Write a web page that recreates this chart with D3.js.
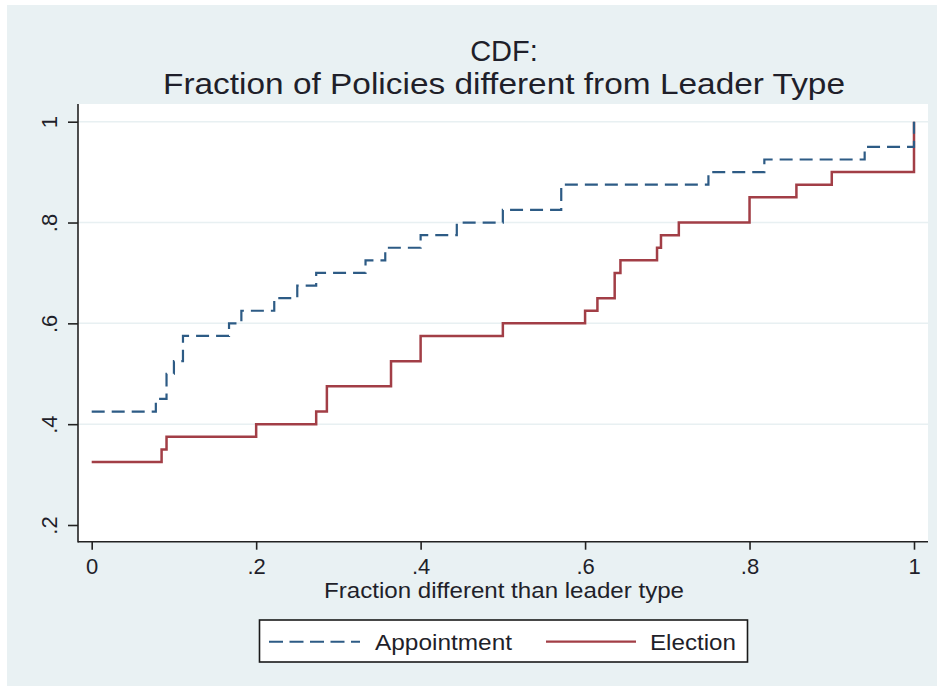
<!DOCTYPE html>
<html>
<head>
<meta charset="utf-8">
<script src="https://cdn.jsdelivr.net/npm/d3@7"></script>
<style>
  html, body { margin: 0; padding: 0; background: #ffffff; }
  svg { display: block; }
  text { font-family: "Liberation Sans", Arial, sans-serif; fill: #1f1f2a; }
</style>
</head>
<body>
<svg id="chart" width="944" height="691"></svg>
<script>
// Empirical CDF of the fraction of policies differing from the leader type
const appointmentX = [0, 0.078, 0.091, 0.1, 0.111, 0.167, 0.182, 0.222, 0.25, 0.273, 0.333, 0.357, 0.4, 0.444, 0.5, 0.571, 0.75, 0.818, 0.94, 1];
const appointmentY = [0.425, 0.45, 0.5, 0.525, 0.575, 0.6, 0.625, 0.65, 0.675, 0.7, 0.725, 0.75, 0.775, 0.8, 0.825, 0.875, 0.9, 0.925, 0.95, 1];

const electionX = [0, 0.085, 0.091, 0.2, 0.273, 0.286, 0.364, 0.4, 0.5, 0.6, 0.615, 0.636, 0.643, 0.6875, 0.6923, 0.714, 0.8, 0.857, 0.9, 1];
const electionY = [0.325, 0.35, 0.375, 0.4, 0.425, 0.475, 0.525, 0.575, 0.6, 0.625, 0.65, 0.7, 0.725, 0.75, 0.775, 0.8, 0.85, 0.875, 0.9, 1];

const xTicks = [0, 0.2, 0.4, 0.6, 0.8, 1];
const xTickLabels = ["0", ".2", ".4", ".6", ".8", "1"];
const yTicks = [0.2, 0.4, 0.6, 0.8, 1];
const yTickLabels = [".2", ".4", ".6", ".8", "1"];
const yGrid = [0.4, 0.6, 0.8, 1];

const titleLines = ["CDF:", "Fraction of Policies different from Leader Type"];
const xTitle = "Fraction different than leader type";
const seriesNames = ["Appointment", "Election"];

const blue = "#2d5b85";
const red = "#a23e46";

const svg = d3.select("#chart");

// graph region background
svg.append("rect").attr("x", 7).attr("y", 5).attr("width", 930).attr("height", 681)
  .attr("fill", "#e9f1f3");

// plot region
const plot = { left: 78, right: 928, top: 104, bottom: 541.7 };
svg.append("rect")
  .attr("x", plot.left).attr("y", plot.top)
  .attr("width", plot.right - plot.left).attr("height", plot.bottom - plot.top)
  .attr("fill", "#ffffff");

const x = d3.scaleLinear().domain([0, 1]).range([91.7, 914]);
const y = d3.scaleLinear().domain([0.2, 1]).range([525, 121.7]);

// gridlines
svg.append("g").selectAll("line").data(yGrid).join("line")
  .attr("x1", plot.left).attr("x2", plot.right)
  .attr("y1", d => y(d)).attr("y2", d => y(d))
  .attr("stroke", "#e8f0f2").attr("stroke-width", 1.5);

// step lines
const pts = (xs, ys) => xs.map((v, i) => [v, ys[i]]);
const stepLine = d3.line().x(d => x(d[0])).y(d => y(d[1])).curve(d3.curveStepAfter);

svg.append("path").datum(pts(electionX, electionY))
  .attr("d", stepLine).attr("fill", "none")
  .attr("stroke", red).attr("stroke-width", 2.5);

svg.append("path").datum(pts(appointmentX, appointmentY))
  .attr("d", stepLine).attr("fill", "none")
  .attr("stroke", blue).attr("stroke-width", 2.2)
  .attr("stroke-dasharray", "13,7");

// axes
const xAxis = d3.axisBottom(x).tickValues(xTicks)
  .tickFormat((d, i) => xTickLabels[i]).tickSize(8).tickPadding(9);
const gx = svg.append("g").attr("transform", `translate(0,${plot.bottom})`).call(xAxis);
gx.select(".domain").remove();
gx.append("line").attr("x1", plot.left).attr("x2", plot.right)
  .attr("stroke", "#222").attr("stroke-width", 1.6);
gx.selectAll(".tick line").attr("stroke", "#222").attr("stroke-width", 1.6);
gx.selectAll(".tick text").attr("font-size", 22).attr("fill", "#1f1f2a")
  .attr("font-family", "Liberation Sans, Arial, sans-serif");

const yAxis = d3.axisLeft(y).tickValues(yTicks)
  .tickFormat((d, i) => yTickLabels[i]).tickSize(10);
const gy = svg.append("g").attr("transform", `translate(${plot.left},0)`).call(yAxis);
gy.select(".domain").remove();
gy.append("line").attr("y1", plot.top).attr("y2", plot.bottom + 0.8)
  .attr("stroke", "#222").attr("stroke-width", 1.6);
gy.selectAll(".tick line").attr("stroke", "#222").attr("stroke-width", 1.6);
gy.selectAll(".tick text")
  .attr("font-size", 22).attr("fill", "#1f1f2a")
  .attr("font-family", "Liberation Sans, Arial, sans-serif")
  .attr("x", null).attr("dy", null)
  .attr("text-anchor", "middle")
  .attr("transform", "translate(-21,0) rotate(-90)");

// titles
const cx = (plot.left + plot.right) / 2 + 1;
svg.append("text").attr("x", cx).attr("y", 61).attr("text-anchor", "middle")
  .attr("font-size", 29).text(titleLines[0]);
svg.append("text").attr("x", cx).attr("y", 94).attr("text-anchor", "middle")
  .attr("font-size", 29).attr("textLength", 682).attr("lengthAdjust", "spacingAndGlyphs")
  .text(titleLines[1]);

svg.append("text").attr("x", cx).attr("y", 598).attr("text-anchor", "middle")
  .attr("font-size", 22).attr("textLength", 360).attr("lengthAdjust", "spacingAndGlyphs")
  .text(xTitle);

// legend
const lg = svg.append("g");
lg.append("rect").attr("x", 259.5).attr("y", 620).attr("width", 488).attr("height", 42)
  .attr("fill", "#ffffff").attr("stroke", "#1a1a1a").attr("stroke-width", 1.6);
lg.append("line").attr("x1", 269).attr("x2", 360).attr("y1", 641.7).attr("y2", 641.7)
  .attr("stroke", blue).attr("stroke-width", 2).attr("stroke-dasharray", "14,6.5");
lg.append("text").attr("x", 375).attr("y", 649.5).attr("font-size", 22)
  .attr("textLength", 137).attr("lengthAdjust", "spacingAndGlyphs").text(seriesNames[0]);
lg.append("line").attr("x1", 546).attr("x2", 636).attr("y1", 641.7).attr("y2", 641.7)
  .attr("stroke", red).attr("stroke-width", 2.2);
lg.append("text").attr("x", 650).attr("y", 649.5).attr("font-size", 22)
  .attr("textLength", 86).attr("lengthAdjust", "spacingAndGlyphs").text(seriesNames[1]);
</script>
</body>
</html>
